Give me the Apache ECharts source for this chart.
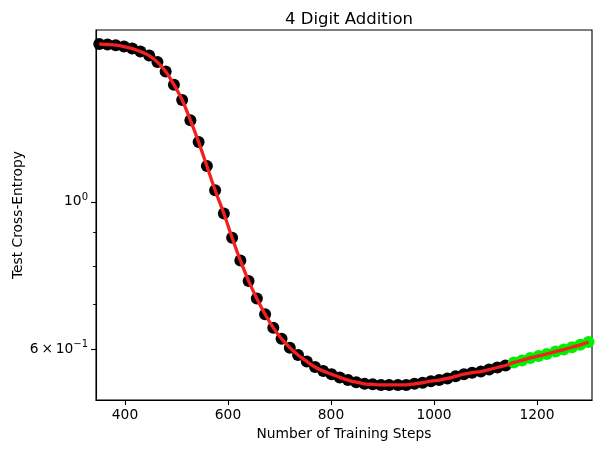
<!DOCTYPE html>
<html>
<head>
    <meta charset="utf-8">
    <script src="https://cdn.jsdelivr.net/npm/echarts@6/dist/echarts.min.js"></script>
    <style>
        html, body, #chart {
            width: 100%;
            height: 100%;
            margin: 0px;
            background: #fff;
        }
    </style>
</head>
<body>
    <div id="chart"></div>
    <script>
        // training steps of the evaluated checkpoints
        var blackSteps = [350, 366, 382, 398, 414, 430, 447, 463, 479, 495,
            511, 527, 543, 559, 575, 592, 608, 624, 640, 656,
            672, 688, 704, 720, 736, 753, 769, 785, 801, 817,
            833, 849, 865, 881, 897, 913, 930, 946, 962, 978,
            994, 1010, 1026, 1042, 1058, 1074, 1091, 1107, 1123, 1139];
        var greenSteps = [1155, 1171, 1187, 1203, 1219, 1236, 1252, 1268, 1284, 1300];

        // test cross-entropy
        var blackLoss = [1.728, 1.725, 1.721, 1.713, 1.701, 1.684, 1.660, 1.623, 1.571, 1.501,
            1.423, 1.327, 1.230, 1.132, 1.041, 0.960, 0.883, 0.816, 0.760, 0.715,
            0.677, 0.646, 0.622, 0.603, 0.588, 0.575, 0.564, 0.556, 0.550, 0.544,
            0.539, 0.535, 0.532, 0.531, 0.530, 0.530, 0.530, 0.530, 0.532, 0.534,
            0.537, 0.539, 0.542, 0.546, 0.550, 0.553, 0.555, 0.559, 0.563, 0.567];
        var greenLoss = [0.573, 0.577, 0.582, 0.586, 0.590, 0.595, 0.599, 0.604, 0.609, 0.615];

        var xTicks = [400, 600, 800, 1000, 1200];
        var yMajorTicks = [0.6, 1];
        var yMinorTicks = [0.7, 0.8, 0.9];

        var font = 'DejaVu Sans';

        function pairs(xs, ys) {
            return xs.map(function (x, i) { return [x, ys[i]]; });
        }

        var blackPts = pairs(blackSteps, blackLoss);
        var greenPts = pairs(greenSteps, greenLoss);
        var allPts = blackPts.concat(greenPts);

        var myChart = echarts.init(document.getElementById('chart'));
        var option = {
            animation: false,
            textStyle: { fontFamily: font },
            title: {
                text: '4 Digit Addition',
                left: 344,
                textAlign: 'center',
                top: 6,
                textStyle: { fontSize: 16.5, fontWeight: 'normal', color: '#000', fontFamily: font }
            },
            grid: {
                left: 96, right: 10, top: 30, bottom: 53,
                outerBoundsMode: 'none',
                containLabel: false,
                show: true, borderColor: '#000', borderWidth: 1.1, backgroundColor: 'transparent'
            },
            xAxis: {
                type: 'value',
                min: 343.7,
                max: 1306.8,
                name: 'Number of Training Steps',
                nameLocation: 'middle',
                nameGap: 27,
                nameMoveOverlap: false,
                nameTextStyle: { fontSize: 13.8, color: '#000', fontFamily: font },
                axisLine: { show: true, lineStyle: { color: '#000', width: 1.1 } },
                axisTick: { show: true, customValues: xTicks, length: 5, lineStyle: { color: '#000', width: 1.1 } },
                axisLabel: {
                    customValues: xTicks, margin: 8, fontSize: 13.8, color: '#000', fontFamily: font,
                    formatter: function (v) { return String(v); }
                },
                splitLine: { show: false }
            },
            yAxis: [{
                type: 'log',
                logBase: 10,
                min: 0.503,
                max: 1.814,
                name: 'Test Cross-Entropy',
                nameLocation: 'middle',
                nameRotate: 90,
                nameGap: 71,
                nameMoveOverlap: false,
                nameTextStyle: { fontSize: 13.8, color: '#000', fontFamily: font },
                axisLine: { show: true, lineStyle: { color: '#000', width: 1.1 } },
                axisTick: { show: true, customValues: yMajorTicks, length: 5, lineStyle: { color: '#000', width: 1.1 } },
                axisLabel: {
                    customValues: yMajorTicks,
                    margin: 8,
                    fontSize: 13.8,
                    color: '#000',
                    fontFamily: font,
                    formatter: function (v) {
                        return Math.abs(v - 1) < 1e-6 ? '10{sup|0}' : '6\u2009\u00d7\u200910{sup|\u22121}';
                    },
                    rich: {
                        sup: { fontSize: 10, color: '#000', fontFamily: font, padding: [0, 0, 9, 0] }
                    }
                },
                splitLine: { show: false }
            }, {
                type: 'log',
                logBase: 10,
                min: 0.503,
                max: 1.814,
                position: 'left',
                axisLine: { show: false },
                axisTick: { show: true, customValues: yMinorTicks, length: 3, lineStyle: { color: '#000', width: 0.9 } },
                axisLabel: { show: false },
                splitLine: { show: false }
            }],
            series: [{
                type: 'scatter',
                data: blackPts,
                symbolSize: 12,
                itemStyle: { color: '#000', opacity: 1 },
                z: 2
            }, {
                type: 'scatter',
                data: greenPts,
                symbolSize: 12,
                itemStyle: { color: '#00f000', opacity: 1 },
                z: 2
            }, {
                type: 'line',
                data: allPts,
                smooth: 0.3,
                showSymbol: false,
                lineStyle: { color: '#f42020', width: 3.3 },
                z: 3
            }]
        };
        option && myChart.setOption(option);
    </script>
</body>
</html>
